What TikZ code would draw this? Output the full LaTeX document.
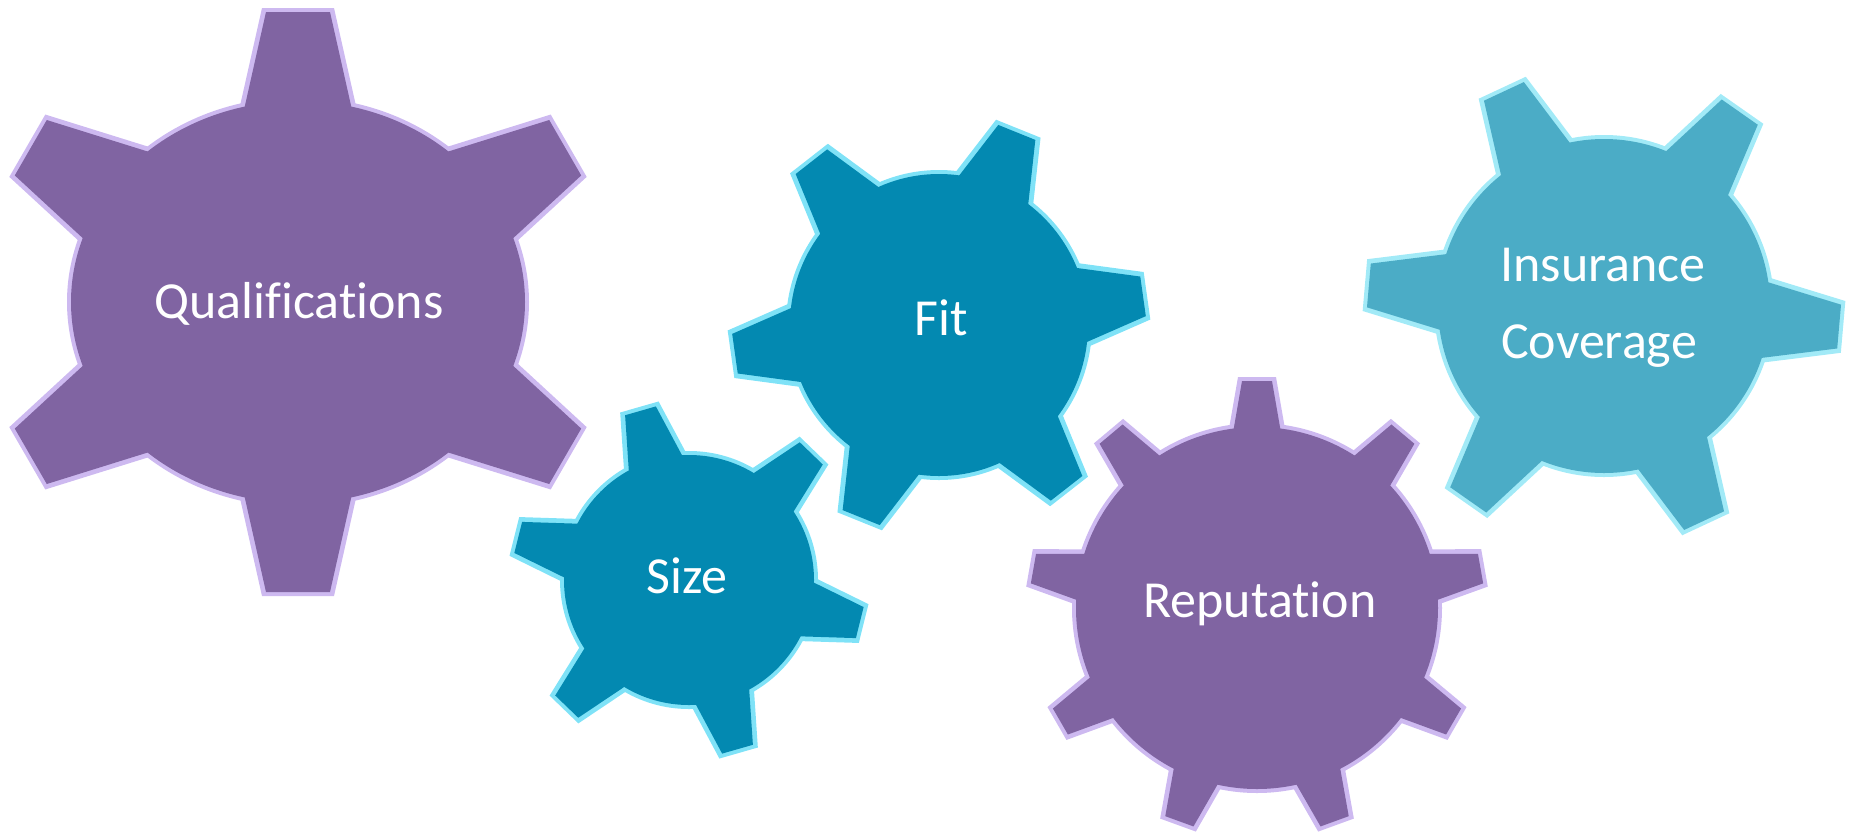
\documentclass[tikz,border=0pt]{standalone}
\usepackage{fontspec}
\setmainfont{Carlito}[Ligatures={NoCommon}]
\usetikzlibrary{calc}
\definecolor{gpurple}{HTML}{8064A2}
\definecolor{gpurplerim}{HTML}{CDB9F0}
\definecolor{gteal}{HTML}{0389B1}
\definecolor{gtealrim}{HTML}{7FE2F7}
\definecolor{gsky}{HTML}{4BACC6}
\definecolor{gskyrim}{HTML}{A2EAF7}
% #1 cx, #2 cy, #3 rx, #4 ry, #5 tooth length, #6 tip half-width, #7 base half-width, #8 angles, #9 style
\newcommand\gearshape[9]{%
  \foreach \a in {#8} {
    \pgfmathsetmacro\grr{(#4)/sqrt(((#4)/(#3)*cos(\a))^2+(sin(\a))^2)}
    \pgfmathsetmacro\gro{\grr+(#5)}
    \pgfmathsetmacro\gri{\grr-25}
    \pgfmathsetmacro\gwi{(#7)+((#7)-(#6))/(#5)*25}
    \path[#9] ($(#1,#2)+(\a:\gri)+(\a+90:\gwi)$) -- ($(#1,#2)+(\a:\gro)+(\a+90:#6)$)
      -- ($(#1,#2)+(\a:\gro)+(\a-90:#6)$) -- ($(#1,#2)+(\a:\gri)+(\a-90:\gwi)$) -- cycle;
  }
  \path[#9] (#1,#2) ellipse [x radius=#3, y radius=#4];
}
\newcommand\beveledgear[9]{%
  \gearshape{#1}{#2}{#3}{#4}{#5}{#6}{#7}{#8}{fill=#9rim}
  \pgfmathsetmacro\irx{#3-4}
  \pgfmathsetmacro\iry{#4-4}
  \pgfmathsetmacro\iwt{#6-4}
  \pgfmathsetmacro\iwb{#7-4}
  \gearshape{#1}{#2}{\irx}{\iry}{#5}{\iwt}{\iwb}{#8}{fill=#9}
}
\tikzset{lbl/.style={text=white, inner sep=0pt, anchor=base, font=\fontsize{26}{31}\selectfont}}
\begin{document}
\begin{tikzpicture}[x=0.5pt,y=-0.5pt]
\useasboundingbox (0,0) rectangle (1849,832);
% Qualifications
\beveledgear{298}{302}{231}{205}{89}{36}{56}{30,90,...,330}{gpurple}
% Fit
\beveledgear{939}{325}{153}{155}{57}{24}{40}{-8,52,...,292}{gteal}
% Size
\beveledgear{689}{580}{129}{129}{51}{20}{31}{14,74,...,314}{gteal}
% Reputation
\beveledgear{1257}{608}{185}{185}{46}{19}{27}{-90,-50,...,230}{gpurple}
% Insurance Coverage
\beveledgear{1604}{306}{170}{171}{70}{26}{41}{5,65,...,305}{gsky}
\node[lbl] (qual) at (299,318) {Qualifications};
\node[lbl] (fit) at (941,335) {Fit};
\node[lbl] (size) at (687,593) {Size};
\node[lbl] (rep) at (1260,617) {Reputation};
\node[lbl] (ins1) at (1603,281) {Insurance};
\node[lbl] (ins2) at (1599,358) {Coverage};
\end{tikzpicture}
\end{document}
